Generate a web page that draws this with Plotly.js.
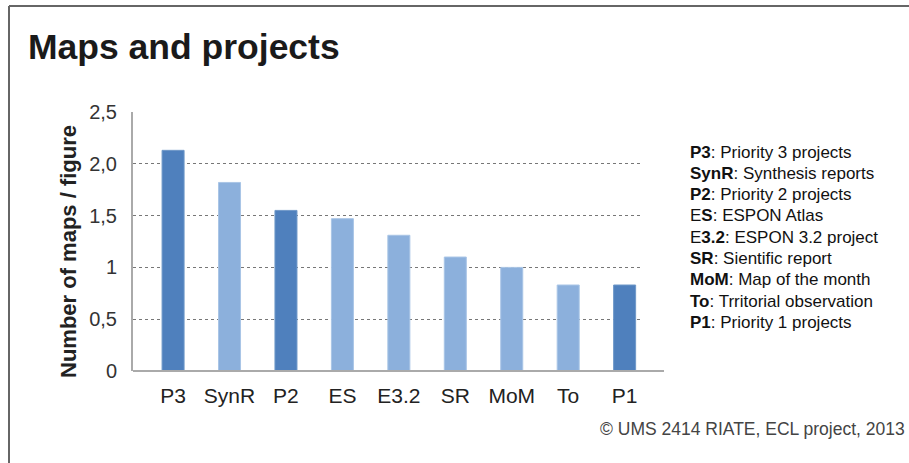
<!DOCTYPE html>
<html>
<head>
<meta charset="utf-8">
<script src="https://cdn.plot.ly/plotly-3.0.1.min.js"></script>
<style>
  html, body { margin: 0; padding: 0; background: #fff; }
  #chart { width: 909px; height: 463px; }
</style>
</head>
<body>
<div id="chart"></div>
<script>
const categories = ["P3", "SynR", "P2", "ES", "E3.2", "SR", "MoM", "To", "P1"];
const values = [2.13, 1.82, 1.55, 1.47, 1.31, 1.10, 1.00, 0.83, 0.83];
const isPriority = [true, false, true, false, false, false, false, false, true];
const yTickValues = [0, 0.5, 1, 1.5, 2, 2.5];
const yTickLabels = ["0", "0,5", "1", "1,5", "2,0", "2,5"];
const legendLines = [
  "<b>P3</b>: Priority 3 projects",
  "<b>SynR</b>: Synthesis reports",
  "<b>P2</b>: Priority 2 projects",
  "E<b>S</b>: ESPON Atlas",
  "E<b>3.2</b>: ESPON 3.2 project",
  "<b>SR</b>: Sientific report",
  "<b>MoM</b>: Map of the month",
  "<b>To</b>: Trritorial observation",
  "<b>P1</b>: Priority 1 projects"
];
const titleText = "<b>Maps and projects</b>";
const yTitle = "<b>Number of maps / figure</b>";
const credit = "© UMS 2414 RIATE, ECL project, 2013";

const W = 909, H = 463;
const L = 133, R = 641, T = 112, B = 371;
const pw = R - L, ph = B - T;
const px = x => (x - L) / pw;
const py = y => (B - y) / ph;

const FONT = "'Liberation Sans', Arial, sans-serif";
const dark = "#4f80bd", light = "#8cb0dc";
const darkLine = "#6f98c8", lightLine = "#a9c5e6";

const trace = {
  type: "bar",
  x: categories,
  y: values,
  width: 0.39,
  marker: {
    color: isPriority.map(p => p ? dark : light),
    line: { color: isPriority.map(p => p ? darkLine : lightLine), width: 1 }
  },
  hoverinfo: "x+y"
};

const legendAnns = legendLines.map((t, i) => ({
  xref: "paper", yref: "paper",
  x: px(688), y: py(152 + i * 21.3),
  xanchor: "left", yanchor: "middle", align: "left",
  text: t, showarrow: false,
  font: { size: 17, color: "#111", family: FONT }
}));

const layout = {
  width: W, height: H,
  margin: { l: L, r: W - R, t: T, b: H - B, pad: 0 },
  paper_bgcolor: "#fff",
  plot_bgcolor: "#fff",
  showlegend: false,
  font: { family: FONT, color: "#222" },
  xaxis: {
    type: "category",
    range: [-0.71, 8.29],
    showgrid: false,
    zeroline: false,
    showline: false,
    ticks: "",
    tickfont: { size: 21, color: "#222" },
    ticklabelstandoff: 10,
    fixedrange: true
  },
  yaxis: {
    range: [0, 2.5],
    tickvals: yTickValues,
    ticktext: yTickLabels,
    tickfont: { size: 20, color: "#333" },
    showgrid: true,
    gridcolor: "#777",
    griddash: "dot",
    gridwidth: 1,
    zeroline: false,
    showline: true,
    linecolor: "#aaa",
    linewidth: 2,
    ticks: "",
    ticklabelstandoff: 10,
    fixedrange: true
  },
  shapes: [
    { type: "line", xref: "paper", yref: "paper", x0: 0, x1: px(664), y0: 0, y1: 0,
      line: { color: "#aaa", width: 2 } },
    { type: "line", xref: "paper", yref: "paper", x0: px(9), x1: px(920), y0: py(6), y1: py(6),
      line: { color: "#666", width: 2 } },
    { type: "line", xref: "paper", yref: "paper", x0: px(9), x1: px(9), y0: py(6), y1: py(470),
      line: { color: "#666", width: 2 } }
  ],
  annotations: [
    {
      xref: "paper", yref: "paper",
      x: px(26), y: py(47),
      xanchor: "left", yanchor: "middle",
      text: titleText, showarrow: false,
      font: { size: 35.5, color: "#1a1a1a", family: FONT }
    },
    {
      xref: "paper", yref: "paper",
      x: px(68), y: py(252),
      xanchor: "center", yanchor: "middle",
      textangle: -90,
      text: yTitle, showarrow: false,
      font: { size: 22, color: "#222", family: FONT }
    },
    ...legendAnns,
    {
      xref: "paper", yref: "paper",
      x: px(907), y: py(429),
      xanchor: "right", yanchor: "middle",
      text: credit, showarrow: false,
      font: { size: 17.5, color: "#444", family: FONT }
    }
  ]
};

Plotly.newPlot("chart", [trace], layout, { displayModeBar: false, staticPlot: true });
</script>
</body>
</html>
